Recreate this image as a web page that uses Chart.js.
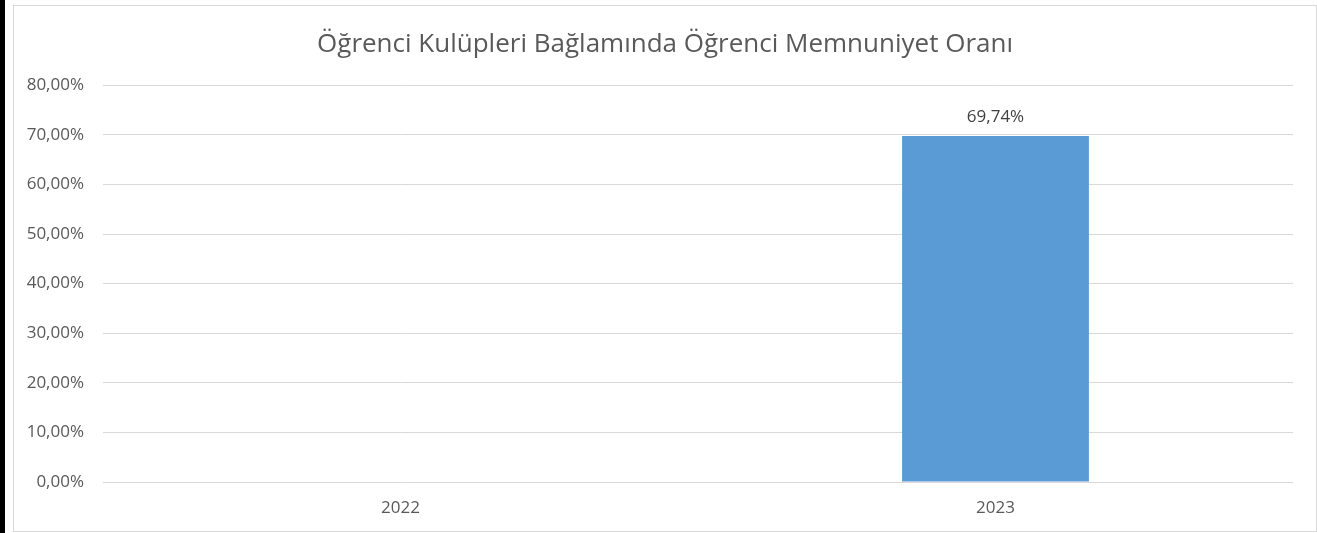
<!DOCTYPE html>
<html lang="tr">

<head>
    <meta charset="UTF-8">
    <title>Öğrenci Kulüpleri Bağlamında Öğrenci Memnuniyet Oranı</title>
    <script src="https://cdn.jsdelivr.net/npm/chart.js"></script>
    <style>
        body { margin: 0; background: #fff; width: 1317px; height: 533px; position: relative; overflow: hidden; }
        .kenar { position: absolute; left: 0; top: 0; width: 5px; height: 533px; background: #000; }
        .chart-container { position: absolute; left: 13px; top: 5px; width: 1302px; height: 525px; border: 1px solid #d9d9d9; }
    </style>
</head>

<body>
    <div class="kenar"></div>
    <div class="chart-container">
        <canvas id="memnuniyetChart" width="1302" height="525"></canvas>
    </div>

    <script>
        // veriler
        const yillar = ['2022', '2023'];
        const memnuniyet = [null, 69.74];
        const eksenMin = 0;
        const eksenMax = 80;
        const eksenAdim = 10;

        const griYazi = '#595959';
        const font = "'Open Sans', 'Noto Sans', sans-serif";

        function yuzde(v) {
            return v.toFixed(2).replace('.', ',') + '%';
        }

        // çubuk üstü etiket
        const etiketPlugin = {
            id: 'etiketler',
            afterDatasetsDraw(chart) {
                const ctx = chart.ctx;
                const meta = chart.getDatasetMeta(0);
                ctx.save();
                ctx.fillStyle = '#404040';
                ctx.font = '17px ' + font;
                ctx.textAlign = 'center';
                ctx.textBaseline = 'middle';
                meta.data.forEach((bar, i) => {
                    const v = chart.data.datasets[0].data[i];
                    if (v === null) return;
                    ctx.fillText(yuzde(v), bar.x, bar.y - 19);
                });
                ctx.restore();
            }
        };

        // başlık tüm kutunun ortasında olsun (sağdaki boşluğu yok say)
        const baslikOrtala = {
            id: 'baslikOrtala',
            afterLayout(chart) {
                const t = chart.titleBlock;
                if (!t) return;
                t.left = 0;
                t.right = chart.width;
                t.width = chart.width;
            }
        };

        const ctx = document.getElementById('memnuniyetChart').getContext('2d');
        new Chart(ctx, {
            type: 'bar',
            data: {
                labels: yillar,
                datasets: [{
                    data: memnuniyet,
                    backgroundColor: '#5b9bd5',
                    borderWidth: 0,
                    categoryPercentage: 1,
                    barPercentage: 0.314
                }]
            },
            options: {
                responsive: false,
                animation: false,
                layout: { padding: { left: 0, right: 23, top: 0, bottom: 0 } },
                plugins: {
                    legend: { display: false },
                    tooltip: { enabled: false },
                    title: {
                        display: true,
                        text: 'Öğrenci Kulüpleri Bağlamında Öğrenci Memnuniyet Oranı',
                        color: griYazi,
                        font: { family: font, size: 26, weight: 'normal', lineHeight: 1.2 },
                        padding: { top: 23, bottom: 25 }
                    }
                },
                scales: {
                    x: {
                        grid: { display: false },
                        border: { display: false },
                        ticks: {
                            color: griYazi,
                            font: { family: font, size: 17 },
                            padding: 8
                        },
                        afterFit: (scale) => { scale.height = 49; }
                    },
                    y: {
                        min: eksenMin,
                        max: eksenMax,
                        grid: { color: '#d9d9d9', drawTicks: false },
                        border: { display: false },
                        ticks: {
                            stepSize: eksenAdim,
                            color: griYazi,
                            font: { family: font, size: 17 },
                            padding: 19,
                            callback: (v) => yuzde(v)
                        },
                        afterFit: (scale) => { scale.width = 89; }
                    }
                }
            },
            plugins: [etiketPlugin, baslikOrtala]
        });
    </script>
</body>

</html>
